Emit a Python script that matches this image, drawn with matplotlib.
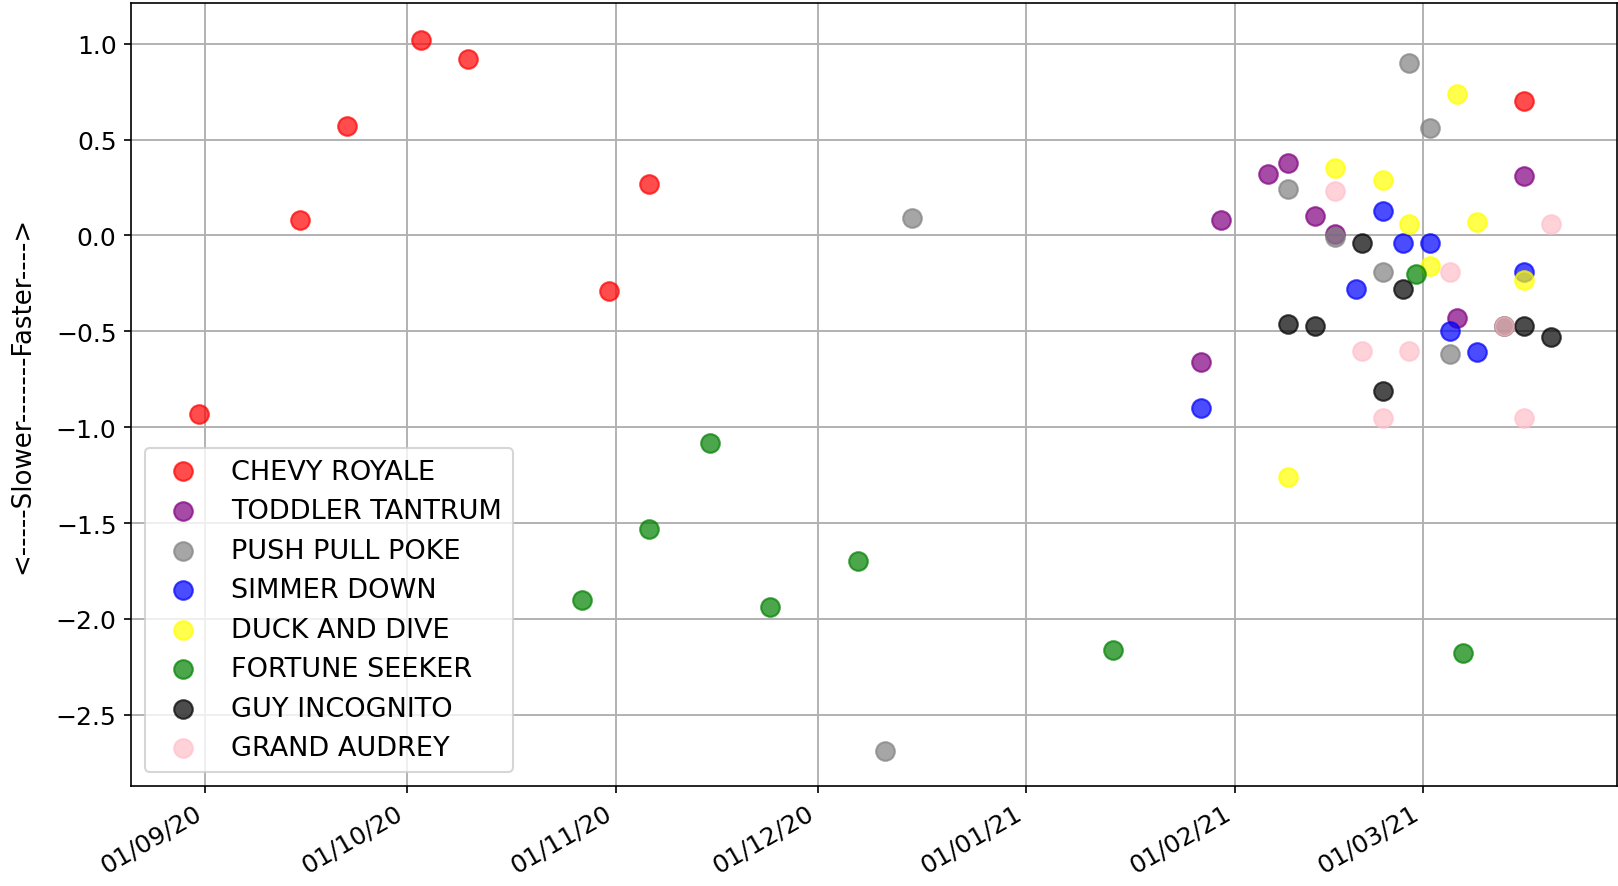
import pandas as pd
import matplotlib.pyplot as plt
import matplotlib.dates as mdates

names = ["CHEVY ROYALE", "TODDLER TANTRUM", "PUSH PULL POKE", "SIMMER DOWN",
         "DUCK AND DIVE", "FORTUNE SEEKER", "GUY INCOGNITO", "GRAND AUDREY"]
colors = ["red", "purple", "grey", "blue", "yellow", "green", "black", "pink"]

chevy_dates = ["2020-08-31", "2020-09-15", "2020-09-22", "2020-10-03", "2020-10-10",
               "2020-10-31", "2020-11-06", "2021-03-16"]
chevy_vals = [-0.93, 0.08, 0.57, 1.02, 0.92, -0.29, 0.27, 0.70]

toddler_dates = ["2021-01-27", "2021-01-30", "2021-02-06", "2021-02-09", "2021-02-13",
                 "2021-02-16", "2021-03-06", "2021-03-16"]
toddler_vals = [-0.66, 0.08, 0.32, 0.38, 0.10, 0.01, -0.43, 0.31]

push_dates = ["2020-12-11", "2020-12-15", "2021-02-09", "2021-02-16", "2021-02-23",
              "2021-02-27", "2021-03-02", "2021-03-05"]
push_vals = [-2.69, 0.09, 0.24, -0.01, -0.19, 0.90, 0.56, -0.62]

simmer_dates = ["2021-01-27", "2021-02-19", "2021-02-23", "2021-02-26", "2021-03-02",
                "2021-03-05", "2021-03-09", "2021-03-16"]
simmer_vals = [-0.90, -0.28, 0.13, -0.04, -0.04, -0.50, -0.61, -0.19]

duck_dates = ["2021-02-09", "2021-02-16", "2021-02-23", "2021-02-27", "2021-03-02",
              "2021-03-06", "2021-03-09", "2021-03-16"]
duck_vals = [-1.26, 0.35, 0.29, 0.06, -0.16, 0.74, 0.07, -0.23]

fortune_dates = ["2020-10-27", "2020-11-06", "2020-11-15", "2020-11-24", "2020-12-07",
                 "2021-01-14", "2021-02-28", "2021-03-07"]
fortune_vals = [-1.90, -1.53, -1.08, -1.94, -1.70, -2.16, -0.20, -2.18]

guy_dates = ["2021-02-09", "2021-02-13", "2021-02-20", "2021-02-23", "2021-02-26",
             "2021-03-13", "2021-03-16", "2021-03-20"]
guy_vals = [-0.46, -0.47, -0.04, -0.81, -0.28, -0.47, -0.47, -0.53]

audrey_dates = ["2021-02-16", "2021-02-20", "2021-02-23", "2021-02-27", "2021-03-05",
                "2021-03-13", "2021-03-16", "2021-03-20"]
audrey_vals = [0.23, -0.60, -0.95, -0.60, -0.19, -0.47, -0.95, 0.06]

series = [(chevy_dates, chevy_vals), (toddler_dates, toddler_vals),
          (push_dates, push_vals), (simmer_dates, simmer_vals),
          (duck_dates, duck_vals), (fortune_dates, fortune_vals),
          (guy_dates, guy_vals), (audrey_dates, audrey_vals)]

fig, ax = plt.subplots(figsize=(10.79, 5.913), dpi=150)
for (d, v), name, c in zip(series, names, colors):
    ax.scatter(pd.to_datetime(d), v, c=c, alpha=0.7, s=80, label=name, zorder=3)

ax.xaxis.set_major_locator(mdates.MonthLocator())
ax.xaxis.set_major_formatter(mdates.DateFormatter('%d/%m/%y'))
ax.set_xlim(pd.Timestamp("2020-08-20 23:00"), pd.Timestamp("2021-03-29 20:00"))
ax.set_ylim(-2.87, 1.21)
ax.tick_params(labelsize=12)
plt.setp(ax.get_xticklabels(), rotation=30, ha='right')
ax.grid(True, color='#b0b0b0', linewidth=0.9)
ax.set_axisbelow(True)
ax.set_ylabel('<-----Slower-------Faster---->', fontsize=12.5, labelpad=10)
ax.legend(loc='lower left', fontsize=13, handletextpad=0.8)

plt.subplots_adjust(left=0.081, right=0.999, top=0.995, bottom=0.113)
plt.savefig('out.png')
